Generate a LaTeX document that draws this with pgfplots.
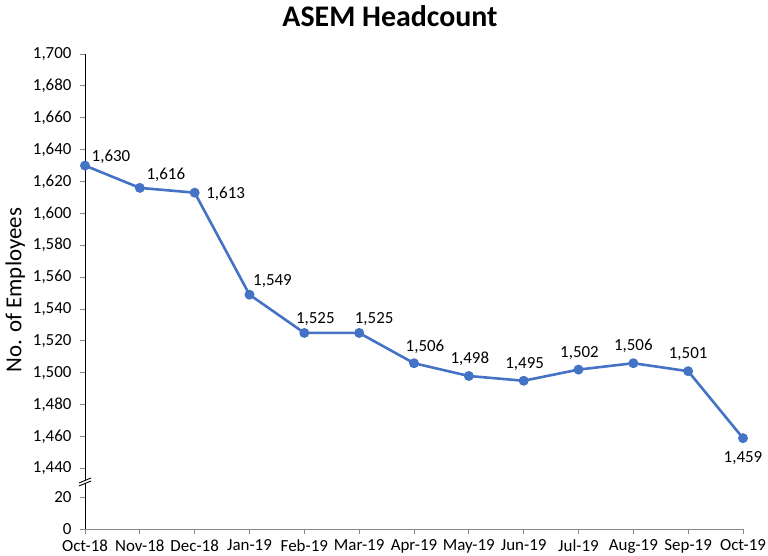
\documentclass[border=0pt]{standalone}
\usepackage{fontspec}
\setmainfont{Carlito}
\usepackage{pgfplots}
\pgfplotsset{compat=1.18}
\definecolor{lineblue}{HTML}{4472C4}
\definecolor{axgray}{HTML}{868686}

% values are the headcounts; the axis is broken between 20 and 1,440,
% so plotted height = value - 1402 (1,440 sits at 38)
% dx, dy: where each label's baseline sits relative to its point (bp)
\begin{document}
\begin{tikzpicture}
\useasboundingbox (0,0) rectangle (768bp,556bp);
\begin{axis}[
  at={(85bp,27bp)}, anchor=south west,
  scale only axis,
  width=658bp, height=475bp,
  xmin=0, xmax=12, ymin=0, ymax=298,
  axis lines*=left,
  x axis line style={axgray, line width=0.9bp},
  y axis line style={black, line width=0.9bp},
  tick style={axgray, line width=0.9bp},
  tick align=outside,
  major tick length=5bp,
  xtick={0,...,12},
  xticklabels={Oct-18,Nov-18,Dec-18,Jan-19,Feb-19,Mar-19,Apr-19,May-19,Jun-19,Jul-19,Aug-19,Sep-19,Oct-19},
  ytick={0,20,38,58,78,98,118,138,158,178,198,218,238,258,278,298},
  yticklabels={0,20,{1,440},{1,460},{1,480},{1,500},{1,520},{1,540},{1,560},{1,580},{1,600},{1,620},{1,640},{1,660},{1,680},{1,700}},
  tick label style={font=\fontsize{17}{20}\selectfont, black},
  xticklabel style={yshift=-2bp},
  yticklabel style={xshift=-5bp},
  ylabel={No. of Employees},
  ylabel style={font=\fontsize{23}{26}\selectfont, at={(axis description cs:-0.106,0.503)}, anchor=center},
  title={\textbf{ASEM Headcount}},
  title style={font=\fontsize{30}{33}\selectfont, at={(axis description cs:0.4635,1.0674)}, anchor=center},
  clip=false,
  /pgf/number format/assume math mode=true,
  /pgf/number format/1000 sep={,},
]
\addplot[
  color=lineblue, line width=2.6bp,
  mark=*, mark size=3.6bp, mark options={fill=lineblue, draw=lineblue},
  point meta=explicit,
  nodes near coords,
  visualization depends on={value \thisrow{dx} \as \mydx},
  visualization depends on={value \thisrow{dy} \as \mydy},
  every node near coord/.append style={font=\fontsize{17}{20}\selectfont, black, anchor=base, inner sep=0pt, xshift=\mydx bp, yshift=\mydy bp},
] table[x=x, y expr=\thisrow{v}-1402, meta=v] {
x v dx dy
0 1630 26 4.3
1 1616 26 8
2 1613 31 -6
3 1549 23 9.3
4 1525 11 9.7
5 1525 15 9.7
6 1506 11 11.3
7 1498 1 12.7
8 1495 1 12.5
9 1502 1 12.5
10 1506 0 12.5
11 1501 0 12.5
12 1459 0 -24
};
% axis break mark
\fill[white] ([xshift=-6bp,yshift=-4bp]axis cs:0,29.5) -- ([xshift=6bp,yshift=1bp]axis cs:0,29.5) -- ([xshift=6bp,yshift=4bp]axis cs:0,29.5) -- ([xshift=-6bp,yshift=-1bp]axis cs:0,29.5) -- cycle;
\draw[black, line width=0.9bp] ([xshift=-6bp,yshift=-4bp]axis cs:0,29.5) -- ([xshift=6bp,yshift=1bp]axis cs:0,29.5);
\draw[black, line width=0.9bp] ([xshift=-6bp,yshift=-1bp]axis cs:0,29.5) -- ([xshift=6bp,yshift=4bp]axis cs:0,29.5);
\end{axis}
\end{tikzpicture}
\end{document}
